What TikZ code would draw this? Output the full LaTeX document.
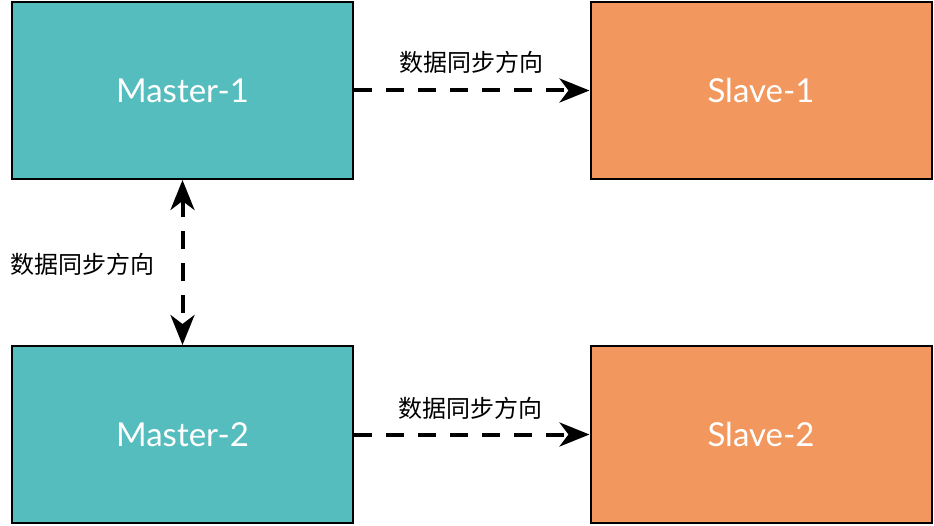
\documentclass[tikz,border=0pt]{standalone}
\usepackage{fontspec}
\setmainfont{Lato}
\newfontfamily\cjk{Noto Sans CJK SC}
\usetikzlibrary{arrows.meta}
\definecolor{tealbox}{HTML}{56BDBE}
\definecolor{orangebox}{HTML}{F2975D}
\tikzset{tip/.tip={Stealth[length=30pt,width=24pt,inset=9pt]}}
\begin{document}
\begin{tikzpicture}[x=1pt,y=-1pt,
  box/.style={draw=black,line width=2pt,minimum width=341pt,minimum height=177pt,inner sep=0pt,
    text=white,font=\fontsize{33}{38}\selectfont},
  master/.style={box,fill=tealbox},
  slave/.style={box,fill=orangebox},
  flow/.style={line width=4pt,dash pattern=on 18pt off 14pt,-tip},
  flow2/.style={line width=4pt,dash pattern=on 18pt off 14pt,tip-tip},
  lbl/.style={font=\cjk\fontsize{24}{28}\selectfont,inner sep=0pt}]
\useasboundingbox (0,0) rectangle (934,526);
\node[master] (m1) at (182.5,90.5) {Master-1};
\node[slave] (s1) at (761,90.5) {Slave-1};
\node[master] (m2) at (182.5,434.5) {Master-2};
\node[slave] (s2) at (761,434.5) {Slave-2};
\draw[flow] (m1.east) -- (s1.west);
\draw[flow] (m2.east) -- (s2.west);
\draw[flow2] (m1.south) -- (m2.north);
\node[lbl] (l1) at (471,62) {数据同步方向};
\node[lbl] (l2) at (470,408) {数据同步方向};
\node[lbl] (l3) at (82,264) {数据同步方向};
\end{tikzpicture}
\end{document}
